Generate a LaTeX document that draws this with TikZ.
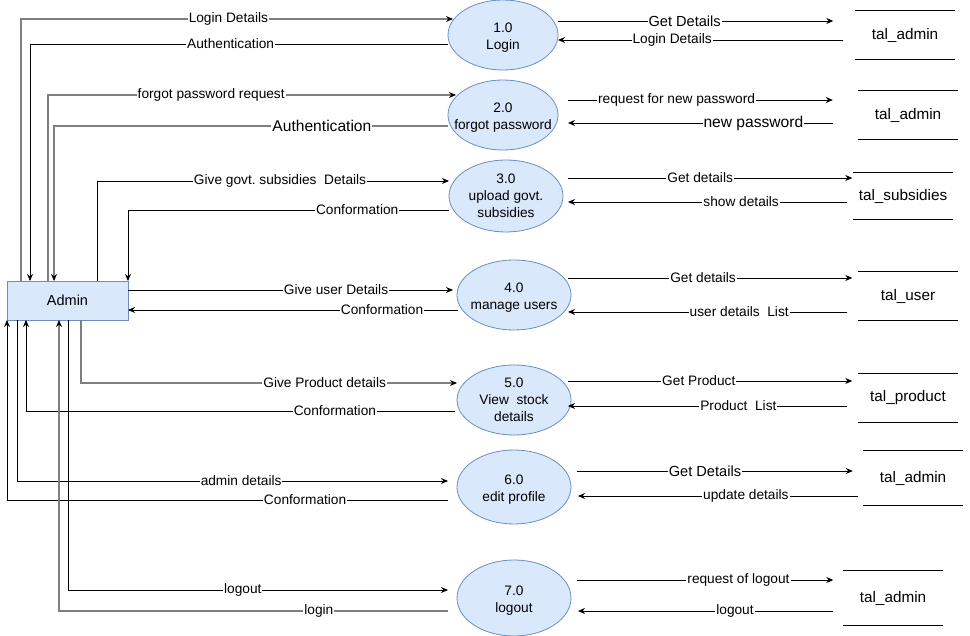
\documentclass[tikz,border=0pt]{standalone}
\usepackage{fontspec}
\setmainfont{Liberation Sans}
\usetikzlibrary{shapes.geometric,arrows.meta,calc}

\definecolor{procfill}{HTML}{DAE8FC}
\definecolor{procline}{HTML}{6C8EBF}
\definecolor{greyline}{HTML}{7F7F7F}

\tikzset{
  flow/.style={draw=black, line width=0.9pt, -{Stealth[length=7pt,width=6pt,color=black]}},
  greyflow/.style={flow, draw=greyline, line width=1.2pt},
  lbl/.style={fill=white, inner sep=1pt, font=\fontsize{13.7}{16}\selectfont},
  biglbl/.style={lbl, font=\fontsize{15.6}{18}\selectfont},
  proc/.style={ellipse, draw=procline, fill=procfill, line width=0.8pt,
    minimum width=110pt, minimum height=70pt, inner sep=0pt, outer sep=0pt},
  ptxt/.style={align=center, font=\fontsize{13.7}{17}\selectfont},
  ptxtlow/.style={ptxt, yshift=-2.5pt},
  entity/.style={rectangle, draw=procline, fill=procfill, line width=0.8pt,
    minimum width=121pt, minimum height=39pt, inner sep=0pt, outer sep=0pt,
    font=\fontsize{14.5}{17}\selectfont},
  store/.style={minimum width=99pt, minimum height=48pt, inner sep=0pt,
    font=\fontsize{15.3}{18}\selectfont,
    append after command={(\tikzlastnode.north west) edge[-, line width=1pt] (\tikzlastnode.north east)
      (\tikzlastnode.south west) edge[-, line width=1pt] (\tikzlastnode.south east)}},
  greystore/.style={store, every edge/.append style={draw=greyline, line width=1.4pt}}
}

\begin{document}
\begin{tikzpicture}[x=1pt, y=-1pt]
  \useasboundingbox (0,0) rectangle (970,636);

  % external entity
  \node[entity] (adm) at (67.5,300.5) {Admin};

  % processes
  \node[proc, label={[ptxtlow]center:{1.0\\Login}}] (p1) at (503,35) {};
  \node[proc, label={[ptxtlow]center:{2.0\\forgot password}}] (p2) at (503,115) {};
  \node[proc, minimum width=114pt, minimum height=72pt,
    label={[ptxt]center:{3.0\\upload govt.\\subsidies}}] (p3) at (506,196) {};
  \node[proc, minimum width=114pt, label={[ptxtlow]center:{4.0\\manage users}}] (p4) at (514,295) {};
  \node[proc, minimum width=114pt, label={[ptxt]center:{5.0\\View\ \ stock\\details}}] (p5) at (514,400) {};
  \node[proc, minimum width=114pt, minimum height=74pt,
    label={[ptxtlow]center:{6.0\\edit profile}}] (p6) at (514,487) {};
  \node[proc, minimum width=114pt, minimum height=76pt,
    label={[ptxtlow]center:{7.0\\logout}}] (p7) at (514,598) {};

  % data stores
  \node[greystore] (s1) at (905,35) {tal\_admin};
  \node[greystore, minimum width=100pt] (s2) at (908,115) {tal\_admin};
  \node[store, minimum height=47pt] (s3) at (903,196) {tal\_subsidies};
  \node[store] (s4) at (908,296) {tal\_user};
  \node[greystore] (s5) at (908,398) {tal\_product};
  \node[store, minimum width=100pt, minimum height=54pt] (s6) at (913,478) {tal\_admin};
  \node[store, minimum height=54pt] (s7) at (893,598) {tal\_admin};

  % admin <-> processes
  \draw[greyflow] ($(adm.north west)+(14,0)$) |- node[lbl, pos=.74] {Login Details} ($(p1.west)+(5,-16)$);
  \draw[flow] ($(p1.west)+(0,9)$) -| node[lbl, pos=.26] {Authentication} ($(adm.north west)+(23,0)$);
  \draw[greyflow] ($(adm.north west)+(41,0)$) |- node[lbl, pos=.70] {forgot password request} ($(p2.west)+(8,-20)$);
  \draw[greyflow] ($(p2.west)+(0,11)$) -| node[biglbl, pos=.16] {Authentication} ($(adm.north west)+(47,0)$);
  \draw[flow] ($(adm.north west)+(90,0)$) |- node[lbl, pos=.76] {Give govt.\ subsidies\ \ Details} ($(p3.west)+(0,-15)$);
  \draw[flow] ($(p3.west)+(0,14)$) -| node[lbl, pos=.143] {Conformation} (adm.north east);
  \draw[flow] ($(adm.east)+(0,-10.5)$) -- node[lbl, pos=.64] {Give user Details} ($(p4.west)+(-4,-5)$);
  \draw[flow] ($(p4.west)+(1,15)$) -- node[lbl, pos=.23] {Conformation} ($(adm.east)+(0,9.5)$);
  \draw[greyflow] ($(adm.south west)+(74,0)$) |- node[lbl, pos=.824] {Give Product details} ($(p5.west)+(0,-17)$);
  \draw[flow] ($(p5.west)+(-2,11)$) -| node[lbl, pos=.14] {Conformation} ($(adm.south west)+(19,0)$);
  \draw[flow] ($(adm.south west)+(10,0)$) |- node[lbl, pos=.76] {admin details} ($(p6.west)+(-9,-6)$);
  \draw[flow] ($(p6.west)+(-9,13)$) -| node[lbl, pos=.162] {Conformation} (adm.south west);
  \draw[flow] ($(adm.south west)+(61,0)$) |- node[lbl, pos=.73] {logout} ($(p7.west)+(-9,-8)$);
  \draw[greyflow] ($(p7.west)+(-9,13)$) -| node[lbl, pos=.166] {login} ($(adm.south west)+(52,0)$);

  % processes <-> data stores
  \draw[flow] ($(p1.east)+(0,-14)$) -- node[lbl, font=\fontsize{14.6}{17}\selectfont, pos=.46] {Get Details} ($(s1.west)+(-22,-14)$);
  \draw[flow] ($(s1.west)+(-12,5)$) -- node[lbl, pos=.6] {Login Details} ($(p1.east)+(0,5)$);
  \draw[flow] ($(p2.east)+(10,-15)$) -- node[lbl, pos=.41] {request for new password} ($(s2.west)+(-25,-15)$);
  \draw[flow] ($(s2.west)+(-25,8)$) -- node[biglbl, pos=.3] {new password} ($(p2.east)+(10,8)$);
  \draw[flow] ($(p3.east)+(5,-18)$) -- node[lbl, pos=.465] {Get details} ($(s3.west)+(-1,-18)$);
  \draw[flow] ($(s3.west)+(-6,6)$) -- node[lbl, pos=.38] {show details} ($(p3.east)+(5,6)$);
  \draw[flow] ($(p4.east)+(-3,-17)$) -- node[lbl, pos=.475] {Get details} ($(s4.west)+(-6,-18)$);
  \draw[flow] ($(s4.west)+(-11,16)$) -- node[lbl, pos=.387] {user details\ \ List} ($(p4.east)+(-3,17)$);
  \draw[flow] ($(p5.east)+(-3,-19)$) -- node[lbl, pos=.46] {Get Product} ($(s5.west)+(-6,-17)$);
  \draw[flow] ($(s5.west)+(-11,8)$) -- node[lbl, pos=.39] {Product\ \ List} ($(p5.east)+(-3,6)$);
  \draw[flow] ($(p6.east)+(6,-16)$) -- node[lbl, font=\fontsize{14.6}{17}\selectfont, pos=.464] {Get Details} ($(s6.west)+(-10,-7)$);
  \draw[flow] ($(s6.west)+(-5,18)$) -- node[lbl, pos=.4] {update details} ($(p6.east)+(7,9)$);
  \draw[flow] ($(p7.east)+(6,-18)$) -- node[lbl, pos=.63] {request of logout} ($(s7.west)+(-10,-18)$);
  \draw[flow] ($(s7.west)+(-10,13)$) -- node[lbl, pos=.385] {logout} ($(p7.east)+(7,13)$);
\end{tikzpicture}
\end{document}
